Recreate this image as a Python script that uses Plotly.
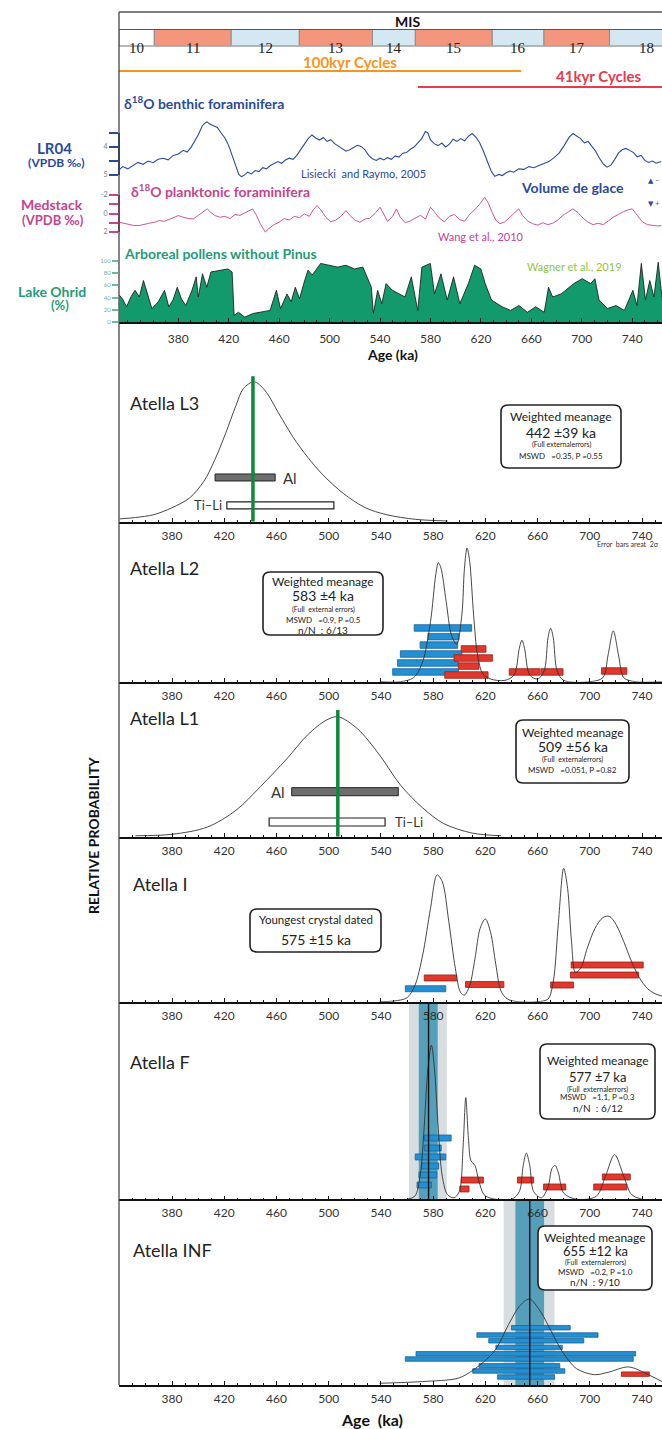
import plotly.graph_objects as go

W, H, L = 662, 1429, 119


def px(x):
    return (x - L) / (W - L)


def py(y):
    return 1 - y / H


FONT = "Lato, 'Open Sans', 'DejaVu Sans', sans-serif"
NUMF = "'Liberation Sans Narrow', Lato, sans-serif"
SERIF = "'Liberation Serif', 'DejaVu Serif', serif"

BLUE = "#2b4a9b"
MAG = "#c4448e"
TEAL = "#1f9c76"
OHRID_FILL = "#139a6c"
ORANGE = "#f7941d"
RED41 = "#e63a4f"
BAR_BLUE, BAR_BLUE_L = "#2290d2", "#16639a"
BAR_RED, BAR_RED_L = "#e2372b", "#9c1e18"
GREEN_LINE = "#0c8a3a"

TOP_RANGE = [333.0, 763.6]
LOW_RANGE = [339.4, 755.3]
AGE_TICKS = [380, 420, 460, 500, 540, 580, 620, 660, 700, 740]

# ---------------- data ----------------
mis_stage = ["10", "11", "12", "13", "14", "15", "16", "17", "18"]
mis_bounds = [361, 422, 476, 534, 568, 629, 670, 722]
mis_last_end = 781

cycle_label = ["100kyr Cycles", "41kyr Cycles"]
cycle_start = [333.0, 570.0]
cycle_end = [652.0, 763.6]

lr04_age = [333, 336, 340, 344, 348, 352, 356, 360, 364, 368,
            372, 376, 380, 384, 387, 390, 393, 396, 399, 401,
            403, 405, 408, 411, 414, 417, 420, 422, 424, 426,
            428, 430, 432, 435, 438, 441, 444, 447, 450, 453,
            456, 459, 462, 465, 468, 471, 474, 477, 480, 483,
            486, 489, 492, 495, 498, 501, 504, 507, 510, 513,
            516, 519, 522, 525, 528, 531, 534, 537, 540, 543,
            546, 549, 552, 555, 558, 561, 564, 567, 570, 573,
            576, 578, 580, 583, 586, 589, 592, 595, 598, 601,
            604, 607, 610, 613, 616, 619, 622, 625, 628, 631,
            634, 637, 640, 643, 646, 650, 654, 658, 662, 666,
            670, 674, 678, 682, 686, 690, 693, 696, 699, 702,
            705, 708, 711, 714, 717, 720, 723, 726, 729, 732,
            735, 738, 741, 744, 747, 750, 753, 756, 759, 763]
lr04_d18o = [4.82, 4.70, 4.78, 4.66, 4.55, 4.62, 4.50, 4.56, 4.44, 4.40,
             4.46, 4.30, 4.25, 4.12, 4.18, 4.02, 3.80, 3.55, 3.25, 3.15,
             3.10, 3.18, 3.24, 3.30, 3.50, 3.68, 3.95, 4.20, 4.45, 4.75,
             4.98, 5.06, 5.02, 4.90, 4.96, 4.84, 4.88, 4.74, 4.78, 4.66,
             4.60, 4.52, 4.58, 4.46, 4.40, 4.44, 4.30, 4.10, 3.90, 3.70,
             3.57, 3.68, 3.75, 3.66, 3.80, 3.74, 3.88, 3.98, 4.05, 4.15,
             4.10, 4.02, 3.94, 3.98, 4.10, 4.30, 4.42, 4.48, 4.40, 4.46,
             4.38, 4.44, 4.32, 4.36, 4.22, 4.20, 4.08, 4.00, 3.85, 3.70,
             3.45, 3.50, 3.75, 3.88, 3.95, 3.86, 4.00, 3.90, 3.72, 3.80,
             3.70, 3.78, 3.62, 3.52, 3.65, 3.85, 4.15, 4.50, 4.85, 5.05,
             4.98, 5.02, 4.92, 4.86, 4.90, 4.78, 4.80, 4.70, 4.74, 4.66,
             4.60, 4.52, 4.38, 4.22, 3.95, 3.65, 3.52, 3.62, 3.70, 3.85,
             3.80, 3.98, 4.15, 4.40, 4.60, 4.72, 4.65, 4.45, 4.22, 4.10,
             4.05, 4.12, 4.20, 4.35, 4.30, 4.48, 4.55, 4.50, 4.58, 4.52]

med_age = [333, 337, 341, 345, 349, 353, 357, 361, 365, 369,
           373, 377, 380, 384, 388, 392, 396, 400, 403, 406,
           409, 413, 417, 421, 425, 429, 433, 436, 439, 442,
           445, 449, 452, 456, 460, 464, 468, 472, 476, 480,
           484, 487, 490, 493, 497, 501, 505, 509, 513, 516,
           520, 524, 528, 532, 536, 540, 543, 546, 550, 553,
           556, 560, 564, 568, 572, 576, 580, 583, 587, 591,
           595, 599, 603, 607, 611, 615, 619, 623, 626, 629,
           632, 635, 639, 643, 647, 650, 653, 657, 661, 665,
           669, 673, 677, 681, 685, 689, 693, 697, 701, 705,
           709, 713, 717, 721, 725, 729, 733, 737, 740, 744,
           748, 752, 756, 760, 763]
med_d18o = [0.94, 1.05, 1.20, 1.30, 1.30, 1.15, 1.05, 0.95, 0.76, 0.85,
            0.60, 0.35, 0.22, 0.40, 0.55, 0.58, 0.20, -0.25, -0.50, -0.10,
            0.22, 0.40, 0.30, 0.55, 0.10, 0.20, -0.10, -0.35, -0.50, 0.20,
            1.10, 2.00, 1.60, 1.20, 0.94, 0.55, 0.70, 0.30, 0.45, 0.05,
            0.30, -0.40, -0.86, -0.40, 0.40, 0.90, 0.70, 0.30, -0.32, 0.20,
            0.70, 0.95, 0.60, 0.50, 0.00, -0.68, 0.10, 0.85, 0.30, -0.50,
            0.40, 1.00, 0.80, 0.50, 0.20, 0.60, -0.68, -0.20, 0.50, 0.90,
            0.30, 0.10, 0.65, 0.85, 0.10, -0.40, -1.00, -1.76, -1.10, -0.10,
            0.76, 1.10, 0.90, 0.40, -0.10, -0.50, 0.20, 0.80, 1.10, 1.25,
            1.00, 1.20, 1.05, 0.70, 0.20, -0.20, -0.50, -0.10, 0.50, 0.95,
            1.20, 1.05, 1.20, 0.80, 0.40, 0.10, -0.20, -0.40, -0.50, 0.20,
            0.90, 1.20, 1.30, 1.35, 1.30]

ohrid_age = [333.3, 335.7, 339, 342.4, 345.7, 349.1, 352.4, 355.8, 359.1, 364.1,
             369.1, 372.5, 375.8, 379.2, 382.5, 385.9, 390.9, 394.2, 395.9, 399.2,
             402.6, 405.9, 412.6, 419.3, 422.7, 424.3, 427.7, 432.7, 439.4, 446.1,
             452.8, 457.8, 461.1, 466.2, 469.5, 472.8, 476.2, 479.5, 482.9, 486.2,
             492.9, 499.6, 506.3, 513, 519.7, 526.4, 533.1, 534.7, 538.1, 541.4,
             544.8, 549.8, 559.8, 564.8, 569.9, 573.2, 579.9, 583.2, 588.3, 593.3,
             598.3, 603.3, 610, 615, 620, 623.4, 628.4, 636.8, 643.5, 650.2,
             656.8, 663.5, 670.2, 673.6, 676.9, 683.6, 693.7, 700.4, 707, 710.4,
             713.7, 720.4, 727.1, 733.8, 740.5, 743.8, 747.2, 750.5, 753.9, 757.2,
             760.6, 763.6]
ohrid_ap = [44, 38, 25, 41, 52, 41, 68, 44, 22, 33,
            52, 25, 36, 57, 38, 27, 52, 74, 41, 79,
            57, 82, 85, 87, 82, 11, 16, 8, 14, 16,
            19, 52, 22, 46, 33, 57, 38, 63, 85, 77,
            96, 93, 90, 93, 87, 90, 57, 14, 52, 30,
            63, 52, 41, 74, 19, 90, 96, 46, 79, 36,
            74, 30, 63, 93, 87, 63, 36, 25, 19, 27,
            16, 25, 16, 57, 41, 46, 63, 71, 63, 71,
            36, 22, 27, 19, 52, 27, 96, 36, 68, 41,
            98, 40]

# Atella L3
l3_age = [340, 352, 366, 380, 393.5, 404.5, 412.7, 421, 429, 434.6, 442.8, 451, 462,
          473, 484, 495, 511.5, 528, 544.4, 566.4, 591]
l3_prob = [0.02, 0.03, 0.05, 0.10, 0.17, 0.29, 0.44, 0.63, 0.83, 0.95, 1.0, 0.94, 0.77,
           0.60, 0.46, 0.34, 0.20, 0.10, 0.05, 0.017, 0.005]
l3_mean = 442
l3_al_age, l3_al_err, l3_al_lvl = [436], [23], [0.316]
l3_tili_age, l3_tili_err, l3_tili_lvl = [463], [41], [0.116]

# Atella L2
l2_age = [540, 555, 565, 572, 578, 582, 584, 586, 590, 594, 598, 602, 604, 606, 608, 611,
          614, 618, 624, 635, 642, 646, 648, 650, 654, 660, 665, 668, 670, 672, 675, 680,
          700, 710, 714, 718, 722, 726, 735, 755]
l2_prob = [0, 0, 0.03, 0.15, 0.45, 0.8, 0.89, 0.85, 0.6, 0.35, 0.28, 0.5, 0.85, 1.0, 0.9, 0.5,
           0.2, 0.06, 0.02, 0.01, 0.05, 0.25, 0.31, 0.25, 0.05, 0.02, 0.08, 0.33, 0.4, 0.33,
           0.08, 0.01, 0.0, 0.03, 0.2, 0.38, 0.2, 0.03, 0, 0]
l2_blue_age = [587.5, 587.9, 584.4, 578.5, 576.0, 574.2]
l2_blue_err = [22.0, 11.9, 14.4, 23.6, 23.3, 25.2]
l2_blue_lvl = [0.402, 0.337, 0.274, 0.207, 0.140, 0.073]
l2_red_age = [611.0, 610.7, 607.2, 605.5, 650.0, 671.0, 718.7]
l2_red_err = [9.5, 14.7, 7.9, 16.6, 11.7, 8.5, 9.7]
l2_red_lvl = [0.245, 0.177, 0.117, 0.050, 0.073, 0.073, 0.080]

# Atella L1
l1_age = [352, 380, 407, 429, 448, 468, 484, 498, 507, 522, 539, 555, 572, 588, 610, 632]
l1_prob = [0.008, 0.02, 0.08, 0.22, 0.42, 0.65, 0.85, 0.97, 1.0, 0.90, 0.68, 0.43, 0.24,
           0.11, 0.03, 0.008]
l1_mean = 507
l1_al_age, l1_al_err, l1_al_lvl = [512.5], [40.8], [0.375]
l1_tili_age, l1_tili_err, l1_tili_lvl = [498.8], [44.4], [0.1225]

# Atella I
i_age = [539, 550, 560, 566, 572, 578, 583, 587, 592, 597, 601, 604, 608, 612, 616, 620,
         624, 628, 632, 637, 645, 660, 668, 672, 676, 680, 683, 686, 689, 693, 698, 704,
         710, 715, 720, 726, 732, 738, 744, 750, 756]
i_prob = [0.0, 0.005, 0.03, 0.12, 0.35, 0.7, 0.95, 0.9, 0.6, 0.25, 0.07, 0.05, 0.12, 0.32,
          0.55, 0.62, 0.52, 0.28, 0.08, 0.02, 0.0, 0.0, 0.02, 0.15, 0.6, 1.0, 0.85, 0.45,
          0.22, 0.25, 0.4, 0.55, 0.63, 0.64, 0.58, 0.45, 0.3, 0.18, 0.1, 0.06, 0.04]
i_blue_age, i_blue_err, i_blue_lvl = [574.2], [15.5], [0.097]
i_red_age = [585.6, 619.5, 678.8, 713.3, 711.3]
i_red_err = [12.4, 14.7, 8.8, 27.6, 26.1]
i_red_lvl = [0.178, 0.129, 0.125, 0.275, 0.200]

# Atella F
f_age = [560, 566, 570, 573, 576, 578.7, 581, 584, 587, 591, 596, 600, 603, 605, 607, 609,
         612, 615, 619, 625, 640, 646, 649, 651.4, 654, 657, 663, 668, 671, 673.4, 676, 680,
         690, 705, 712, 719, 726, 732, 740]
f_prob = [0.0, 0.02, 0.15, 0.45, 0.85, 1.0, 0.85, 0.45, 0.15, 0.03, 0.01, 0.05, 0.35, 0.66,
          0.4, 0.25, 0.22, 0.12, 0.03, 0.005, 0.0, 0.05, 0.22, 0.30, 0.22, 0.05, 0.01, 0.08,
          0.2, 0.22, 0.17, 0.04, 0.0, 0.02, 0.15, 0.29, 0.15, 0.03, 0.0]
f_mean, f_inner, f_outer = 576.5, [569.0, 583.5], [561.5, 590.5]
f_blue_age = [583.5, 579.7, 578.0, 577.7, 575.9, 573.2]
f_blue_err = [10.3, 6.5, 11.7, 6.5, 6.8, 5.5]
f_blue_lvl = [0.398, 0.333, 0.275, 0.216, 0.158, 0.093]
f_red_age = [610.0, 604.0, 650.8, 673.1, 720.3, 715.7]
f_red_err = [8.5, 3.5, 6.2, 8.5, 10.7, 12.7]
f_red_lvl = [0.125, 0.067, 0.125, 0.080, 0.145, 0.080]

# Atella INF
inf_age = [539, 571.9, 599.3, 610.3, 626.8, 637.7, 645.9, 653.6, 662.4, 670.6, 678.9,
           689.9, 703.6, 714.6, 729.7, 744.8, 755.2]
inf_prob = [0.02, 0.04, 0.08, 0.17, 0.39, 0.70, 0.91, 1.0, 0.85, 0.62, 0.39, 0.19, 0.12,
            0.15, 0.21, 0.12, 0.04]
inf_mean, inf_inner, inf_outer = 654.0, [643.0, 665.0], [634.0, 673.0]
inf_blue_age = [662.5, 659.9, 659.0, 653.5, 651.0, 646.0, 646.1, 645.6, 651.2]
inf_blue_err = [22.5, 46.4, 36.4, 25.4, 84.1, 87.3, 30.9, 35.3, 21.8]
inf_blue_lvl = [0.666, 0.581, 0.514, 0.436, 0.363, 0.302, 0.223, 0.163, 0.093]
inf_red_age, inf_red_err, inf_red_lvl = [734.9], [10.7], [0.126]

# ---------------- layout helpers ----------------
def xa(i):
    return "xaxis" if i == 1 else f"xaxis{i}"


def ya(i):
    return "yaxis" if i == 1 else f"yaxis{i}"


def xr(i):
    return "x" if i == 1 else f"x{i}"


def yr(i):
    return "y" if i == 1 else f"y{i}"


# page-pixel top/bottom of each panel, and y ranges
PANELS = {
    1: dict(top=12, bot=46, xr=TOP_RANGE, yr=[0, 1], showx=False),
    2: dict(top=112, bot=185, xr=TOP_RANGE, yr=[5.357, 2.75], showx=False),
    3: dict(top=190, bot=240, xr=TOP_RANGE, yr=[2.86, -2.54], showx=False),
    4: dict(top=255, bot=322, xr=TOP_RANGE, yr=[0, 109.8], showx=True),
    5: dict(top=362, bot=521.7, xr=LOW_RANGE, yr=[0, 1.141], showx=True),
    6: dict(top=538, bot=681.7, xr=LOW_RANGE, yr=[0, 1.075], showx=True),
    7: dict(top=700, bot=836.7, xr=LOW_RANGE, yr=[0, 1.139], showx=True),
    8: dict(top=858, bot=1001.7, xr=LOW_RANGE, yr=[0, 1.077], showx=True),
    9: dict(top=1002, bot=1199.3, xr=LOW_RANGE, yr=[0, 1.281], showx=True),
    10: dict(top=1199.3, bot=1385, xr=LOW_RANGE, yr=[0, 2.159], showx=True),
}

layout = {}
for i, p in PANELS.items():
    xd = dict(domain=[0, 1], range=p["xr"], anchor=yr(i), showgrid=False,
              zeroline=False, fixedrange=True)
    if p["showx"]:
        xd.update(visible=True, showline=True, linecolor="#111", linewidth=1.5,
                  ticks="inside", ticklen=4, tickwidth=1, tickcolor="#111",
                  tickvals=AGE_TICKS, tickfont=dict(size=12, family=NUMF, color="#333"),
                  minor=dict(dtick=10, ticks="inside", ticklen=2, tickcolor="#111"),
                  ticklabelstandoff=2)
    else:
        xd.update(visible=False)
    layout[xa(i)] = xd
    layout[ya(i)] = dict(domain=[py(p["bot"]), py(p["top"])], range=p["yr"],
                         anchor=xr(i), visible=False, showgrid=False, zeroline=False,
                         fixedrange=True)

layout[xa(4)]["ticklabelstandoff"] = 5

ytick_common = dict(visible=True, showline=False, ticks="outside", ticklen=9, tickwidth=1.5,
                    tickfont=dict(size=7, family=FONT, color="#777"))
layout[ya(2)].update(ytick_common, tickvals=[3.5, 4, 4.5, 5], ticktext=[" ", "4", " ", "5"],
                     tickcolor=BLUE)
layout[ya(3)].update(ytick_common, tickvals=[-2, -1, 0, 1, 2],
                     ticktext=["-2", " ", "0", " ", "2"], tickcolor=MAG)
layout[ya(4)].update(ytick_common, tickvals=[0, 20, 40, 60, 80, 100], ticklen=6,
                     tickcolor="#6fb9a0")
layout[ya(4)]["tickfont"] = dict(size=6, family=FONT, color="#7aa")

fig = go.Figure()
shapes = []
ann = []


def txt(x, y, s, size, color="#222", bold=False, xanchor="center", family=FONT, angle=0):
    ann.append(dict(x=px(x), y=py(y), xref="paper", yref="paper",
                    text=f"<b>{s}</b>" if bold else s, showarrow=False,
                    xanchor=xanchor, yanchor="middle", textangle=angle,
                    font=dict(size=size, color=color, family=family)))


def pline(x0, y0, x1, y1, color="#444", width=1.2):
    shapes.append(dict(type="line", xref="paper", yref="paper", x0=px(x0), x1=px(x1),
                       y0=py(y0), y1=py(y1), line=dict(color=color, width=width)))


def rbox(x0, y0, x1, y1, lines, r=7):
    X0, X1, Y0, Y1 = px(x0), px(x1), py(y0), py(y1)
    rx, ry = r / (W - L), r / H
    path = (f"M {X0+rx},{Y0} L {X1-rx},{Y0} Q {X1},{Y0} {X1},{Y0-ry} "
            f"L {X1},{Y1+ry} Q {X1},{Y1} {X1-rx},{Y1} L {X0+rx},{Y1} "
            f"Q {X0},{Y1} {X0},{Y1+ry} L {X0},{Y0-ry} Q {X0},{Y0} {X0+rx},{Y0} Z")
    shapes.append(dict(type="path", xref="paper", yref="paper", path=path,
                       fillcolor="white", line=dict(color="#222", width=1.6), layer="above"))
    cx = (x0 + x1) / 2
    for yy, s, size in lines:
        txt(cx, yy, s, size, color="#222", family=NUMF)


def bars(i, age, err, lvl, thick, color, lcolor, lw=0.8):
    fig.add_trace(go.Bar(orientation="h", y=lvl, x=[2 * e for e in err],
                         base=[a - e for a, e in zip(age, err)], width=thick,
                         marker=dict(color=color, line=dict(color=lcolor, width=lw)),
                         xaxis=xr(i), yaxis=yr(i), hoverinfo="skip"))


def curve(i, age, prob):
    fig.add_trace(go.Scatter(x=age, y=prob, mode="lines",
                             line=dict(color="#333", width=0.9, shape="spline", smoothing=0.9),
                             xaxis=xr(i), yaxis=yr(i), hoverinfo="skip"))


# ---------------- MIS strip ----------------
MIS_FILL = ["#ffffff", "#f4967d", "#d3e8f3", "#f4967d", "#d3e8f3", "#f4967d", "#d3e8f3",
            "#f4967d", "#d3e8f3"]
mis_lo = [TOP_RANGE[0]] + mis_bounds
mis_hi = mis_bounds + [mis_last_end]
for k, st in enumerate(mis_stage):
    shapes.append(dict(type="rect", xref="x", yref="paper", x0=mis_lo[k], x1=mis_hi[k],
                       y0=py(46), y1=py(29.5), fillcolor=MIS_FILL[k],
                       line=dict(color="#8c8c8c", width=1), layer="below"))
    ann.append(dict(x=(mis_lo[k] + mis_hi[k]) / 2, y=py(38), xref="x", yref="paper",
                    text=st, showarrow=False, font=dict(size=15, family=SERIF, color="#222")))
pline(L, 12, W, 12, "#555", 1.4)
pline(L, 29.5, W, 29.5, "#555", 1.2)
pline(L, 46, W, 46, "#aaa", 1)
txt(407, 21, "MIS", 14, "#111", bold=True)

cyc_col = [ORANGE, RED41]
cyc_line_y = [71, 87]
cyc_text = [(350, 62), (599, 76)]
for k in range(2):
    shapes.append(dict(type="line", xref="x", yref="paper", x0=cycle_start[k],
                       x1=cycle_end[k], y0=py(cyc_line_y[k]), y1=py(cyc_line_y[k]),
                       line=dict(color=cyc_col[k], width=2.2)))
    txt(cyc_text[k][0], cyc_text[k][1], cycle_label[k], 15, cyc_col[k], bold=True)

# ---------------- LR04 / Medstack / Ohrid ----------------
fig.add_trace(go.Scatter(x=lr04_age, y=lr04_d18o, mode="lines",
                         line=dict(color=BLUE, width=1.1), xaxis="x2", yaxis="y2",
                         hoverinfo="skip"))
fig.add_trace(go.Scatter(x=med_age, y=med_d18o, mode="lines",
                         line=dict(color=MAG, width=0.9), xaxis="x3", yaxis="y3",
                         hoverinfo="skip"))
fig.add_trace(go.Scatter(x=ohrid_age, y=ohrid_ap, mode="lines", fill="tozeroy",
                         fillcolor=OHRID_FILL, line=dict(color="#111", width=0.8),
                         xaxis="x4", yaxis="y4", hoverinfo="skip"))

shapes.append(dict(type="line", xref="paper", yref="y2", x0=0, x1=0, y0=3.5, y1=5,
                   line=dict(color=BLUE, width=2)))
shapes.append(dict(type="line", xref="paper", yref="y3", x0=0, x1=0, y0=-2, y1=2,
                   line=dict(color=MAG, width=2)))

txt(122, 103, "δ<sup>18</sup>O benthic foraminifera", 14, BLUE, bold=True, xanchor="left")
txt(363, 173, "Lisiecki  and Raymo, 2005", 11, BLUE, family=NUMF)
txt(572, 188, "Volume de glace", 14, BLUE, bold=True)
txt(661, 180, "▲ –", 7, BLUE, xanchor="right")
txt(661, 203, "▼ +", 7, BLUE, xanchor="right")
txt(129, 190, "δ<sup>18</sup>O planktonic foraminifera", 14, MAG, bold=True, xanchor="left")
txt(481, 237, "Wang et al., 2010", 11, MAG, family=NUMF)
txt(122, 253, "Arboreal pollens without Pinus", 14, TEAL, bold=True, xanchor="left")
txt(574, 267, "Wagner et al., 2019", 11, "#8cc63f", family=NUMF)
txt(392, 354, "Age (ka)", 14, "#111", bold=True)

txt(54, 148, "LR04", 15, BLUE, bold=True)
txt(56, 162, "(VPDB ‰)", 12, BLUE, bold=True)
txt(52, 205, "Medstack", 14, MAG, bold=True)
txt(53, 220, "(VPDB ‰)", 13, MAG, bold=True)
txt(52, 291, "Lake Ohrid", 14, TEAL, bold=True)
txt(60, 305, "(%)", 13, TEAL, bold=True)

# ---------------- Atella panels ----------------
# L3
curve(5, l3_age, l3_prob)
bars(5, l3_al_age, l3_al_err, l3_al_lvl, 0.05, "#6e6e6e", "#222", 1)
bars(5, l3_tili_age, l3_tili_err, l3_tili_lvl, 0.05, "white", "#222", 1.2)
shapes.append(dict(type="line", xref="x5", yref="y5", x0=l3_mean, x1=l3_mean, y0=0, y1=1.04,
                   line=dict(color=GREEN_LINE, width=3.5), layer="above"))
txt(128, 403, "Atella L3", 18, "#222", xanchor="left")
txt(281, 478, "Al", 15, "#333", xanchor="left")
txt(224, 505, "Ti–Li", 13, "#333", xanchor="right")
rbox(501, 405, 621, 468, [(417, "Weighted meanage", 12), (432, "442 ±39 ka", 14),
                          (445, "(Full externalerrors)", 7), (456, "MSWD   =0.35, P =0.55", 8)])
txt(661, 544, "Error  bars areat  2σ", 7, "#333", family=NUMF, xanchor="right")

# L2
curve(6, l2_age, l2_prob)
bars(6, l2_blue_age, l2_blue_err, l2_blue_lvl, 0.049, BAR_BLUE, BAR_BLUE_L)
bars(6, l2_red_age, l2_red_err, l2_red_lvl, 0.049, BAR_RED, BAR_RED_L)
txt(128, 568, "Atella L2", 18, "#222", xanchor="left")
rbox(263, 572, 383, 635, [(581, "Weighted meanage", 12), (595, "583 ±4 ka", 14),
                          (609, "(Full  external errors)", 7), (620, "MSWD   =0.9, P =0.5", 8),
                          (630, "n/N  : 6/13", 10)])

# L1
curve(7, l1_age, l1_prob)
bars(7, l1_al_age, l1_al_err, l1_al_lvl, 0.067, "#6e6e6e", "#222", 1)
bars(7, l1_tili_age, l1_tili_err, l1_tili_lvl, 0.067, "white", "#222", 1.2)
shapes.append(dict(type="line", xref="x7", yref="y7", x0=l1_mean, x1=l1_mean, y0=0, y1=1.056,
                   line=dict(color=GREEN_LINE, width=3.5), layer="above"))
txt(128, 718, "Atella L1", 18, "#222", xanchor="left")
txt(287, 792, "Al", 15, "#333", xanchor="right")
txt(393, 822, "Ti–Li", 13, "#333", xanchor="left")
rbox(516, 720, 629, 783, [(732, "Weighted meanage", 12), (746, "509 ±56 ka", 14),
                          (759, "(Full  externalerrors)", 7), (770, "MSWD   =0.051, P =0.82", 8)])

# I
curve(8, i_age, i_prob)
bars(8, i_blue_age, i_blue_err, i_blue_lvl, 0.045, BAR_BLUE, BAR_BLUE_L)
bars(8, i_red_age, i_red_err, i_red_lvl, 0.045, BAR_RED, BAR_RED_L)
txt(131, 884, "Atella I", 18, "#222", xanchor="left")
rbox(250, 909, 381, 952, [(920, "Youngest crystal dated", 11.5), (939, "575 ±15 ka", 14)])

# F
for rng, col in ((f_outer, "#d8dde0"), (f_inner, "#559fba")):
    shapes.append(dict(type="rect", xref="x9", yref="y9 domain", x0=rng[0], x1=rng[1],
                       y0=0, y1=1, fillcolor=col, line=dict(width=0), layer="below"))
curve(9, f_age, f_prob)
bars(9, f_blue_age, f_blue_err, f_blue_lvl, 0.039, BAR_BLUE, BAR_BLUE_L)
bars(9, f_red_age, f_red_err, f_red_lvl, 0.039, BAR_RED, BAR_RED_L)
shapes.append(dict(type="line", xref="x9", yref="y9 domain", x0=f_mean, x1=f_mean, y0=0, y1=1,
                   line=dict(color="#111", width=1.4), layer="above"))
txt(128, 1062, "Atella F", 18, "#222", xanchor="left")
rbox(540, 1044, 655, 1119, [(1060, "Weighted meanage", 12), (1077, "577 ±7 ka", 13),
                            (1089, "(Full  externalerrors)", 7), (1097, "MSWD   =1.1, P =0.3", 8),
                            (1108, "n/N  : 6/12", 10)])

# INF
for rng, col in ((inf_outer, "#d8dde0"), (inf_inner, "#559fba")):
    shapes.append(dict(type="rect", xref="x10", yref="y10 domain", x0=rng[0], x1=rng[1],
                       y0=0, y1=1, fillcolor=col, line=dict(width=0), layer="below"))
curve(10, inf_age, inf_prob)
bars(10, inf_blue_age, inf_blue_err, inf_blue_lvl, 0.052, BAR_BLUE, BAR_BLUE_L)
bars(10, inf_red_age, inf_red_err, inf_red_lvl, 0.052, BAR_RED, BAR_RED_L)
shapes.append(dict(type="line", xref="x10", yref="y10 domain", x0=inf_mean, x1=inf_mean,
                   y0=0, y1=1, line=dict(color="#111", width=1.4), layer="above"))
txt(131, 1250, "Atella INF", 18, "#222", xanchor="left")
rbox(538, 1226, 652, 1290, [(1237, "Weighted meanage", 12), (1251, "655 ±12 ka", 13),
                            (1262, "(Full  externalerrors)", 7), (1272, "MSWD   =0.2, P =1.0", 8),
                            (1282, "n/N  : 9/10", 10)])
txt(372, 1419, "Age  (ka)", 16, "#111", bold=True)

# frame + vertical label
pline(L, 12, L, 1385, "#444", 1.3)
txt(93, 835, "RELATIVE PROBABILITY", 14, "#111", bold=True, angle=-90)

fig.update_layout(**layout)
fig.update_layout(width=W, height=H, margin=dict(l=L, r=0, t=0, b=0, autoexpand=False),
                  paper_bgcolor="white", plot_bgcolor="rgba(0,0,0,0)", showlegend=False,
                  barmode="overlay", hovermode=False, shapes=shapes, annotations=ann,
                  font=dict(family=FONT))

fig.write_html("out.html", config={"displayModeBar": False},
               post_script="document.body.style.margin='0';document.body.style.padding='0';")
